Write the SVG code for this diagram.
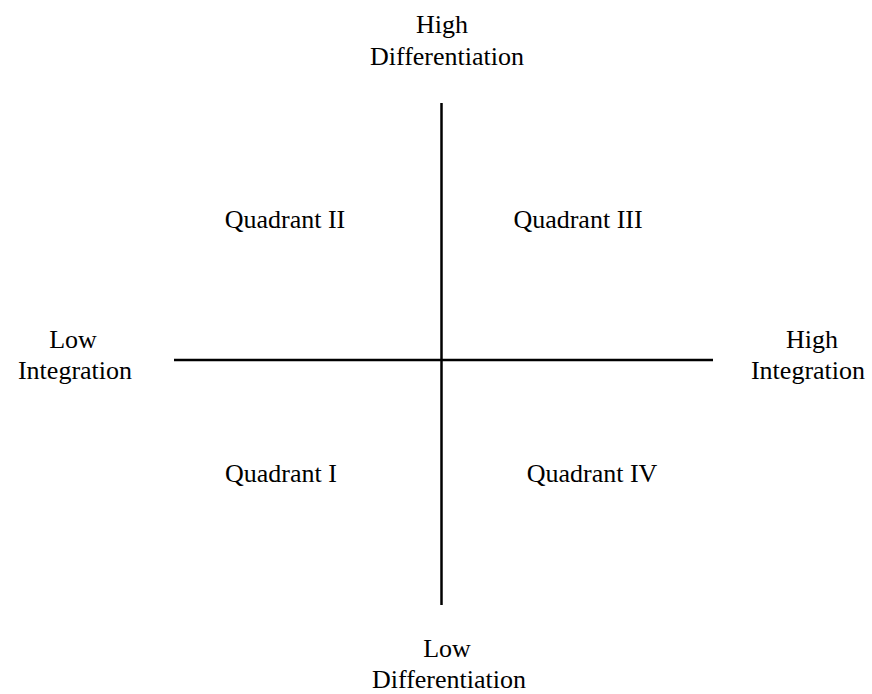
<svg xmlns="http://www.w3.org/2000/svg" width="872" height="694" viewBox="0 0 872 694">
<style>
text{font-family:"Liberation Serif","Times New Roman",serif;font-size:26px;fill:#000;text-anchor:middle}
.ax{stroke:#000;stroke-width:2.5;fill:none}
</style>
<rect width="872" height="694" fill="#fff"/>
<g id="connectors">
<line class="ax" x1="441.5" y1="103" x2="441.5" y2="605"/>
<line class="ax" x1="174" y1="360" x2="713" y2="360"/>
</g>
<g id="high-differentiation"><text x="442" y="33">High</text><text x="447" y="65">Differentiation</text></g>
<g id="low-differentiation"><text x="447" y="657">Low</text><text x="449" y="688">Differentiation</text></g>
<g id="low-integration"><text x="73" y="348">Low</text><text x="75" y="379">Integration</text></g>
<g id="high-integration"><text x="812" y="348">High</text><text x="808" y="379">Integration</text></g>
<g id="quadrant-2"><text x="285" y="228">Quadrant II</text></g>
<g id="quadrant-3"><text x="578" y="228">Quadrant III</text></g>
<g id="quadrant-1"><text x="281" y="482">Quadrant I</text></g>
<g id="quadrant-4"><text x="592" y="482">Quadrant IV</text></g>
</svg>
